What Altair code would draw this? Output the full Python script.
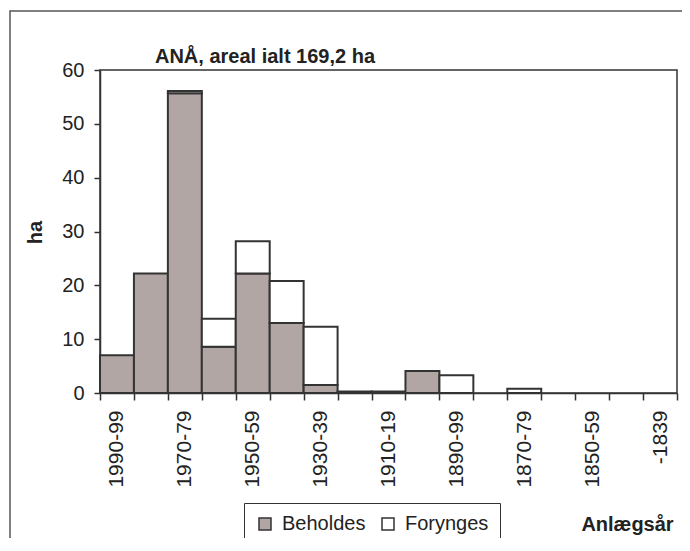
import altair as alt
import pandas as pd

categories = ["1990-99", "1980-89", "1970-79", "1960-69", "1950-59", "1940-49",
              "1930-39", "1920-29", "1910-19", "1900-09", "1890-99", "1880-89",
              "1870-79", "1860-69", "1850-59", "1840-49", "-1839"]
beholdes = [7.0, 22.2, 55.7, 8.6, 22.2, 13.0, 1.5, 0.3, 0.3, 4.1, 0, 0, 0, 0, 0, 0, 0]
forynges = [0, 0, 0.4, 5.2, 6.0, 7.8, 10.8, 0, 0, 0, 3.3, 0, 0.8, 0, 0, 0, 0]
series = ["Beholdes", "Forynges"]
shown_labels = categories[::2]
title_text = "ANÅ, areal ialt 169,2 ha"

rows = []
for c, b, f in zip(categories, beholdes, forynges):
    if b > 0:
        rows.append({"cat": c, "serie": "Beholdes", "ord": 0, "ha": b})
    if f > 0:
        rows.append({"cat": c, "serie": "Forynges", "ord": 1, "ha": f})
df = pd.DataFrame(rows)

FONT = "Liberation Sans"
TXT = "#222222"
label_expr = "indexof([" + ",".join("'" + s + "'" for s in shown_labels) + "], datum.value) >= 0 ? datum.label : ''"

bars = alt.Chart(df).mark_bar(stroke="#333333", strokeWidth=2).encode(
    x=alt.X("cat:N", sort=categories,
            scale=alt.Scale(domain=categories, paddingInner=0, paddingOuter=0),
            axis=alt.Axis(title="Anlægsår", titleX=527, titleY=131, titleAlign="center",
                          titleBaseline="middle", titleAngle=0, titleFont=FONT,
                          titleFontSize=20, titleFontWeight="bold", titleColor=TXT,
                          labelAngle=270, labelAlign="right", labelBaseline="middle",
                          labelExpr=label_expr, labelOverlap=False, labelFont=FONT,
                          labelFontSize=21, labelColor=TXT, labelPadding=10,
                          tickBand="extent", tickSize=7, tickColor="#333333", tickWidth=1.5,
                          domainColor="#333333", domainWidth=1.5)),
    y=alt.Y("ha:Q", stack="zero",
            scale=alt.Scale(domain=[0, 60], nice=False),
            axis=alt.Axis(title="ha", values=[0, 10, 20, 30, 40, 50, 60], grid=False,
                          titleX=-65, titleY=162, titleAngle=270, titleAlign="center",
                          titleBaseline="middle", titleFont=FONT, titleFontSize=20,
                          titleFontWeight="bold", titleColor=TXT,
                          labelFont=FONT, labelFontSize=20, labelColor=TXT, labelPadding=10,
                          tickSize=6, tickColor="#333333", tickWidth=1.5,
                          domainColor="#333333", domainWidth=1.5)),
    color=alt.Color("serie:N", sort=series,
                    scale=alt.Scale(domain=series, range=["#b2a6a4", "#ffffff"]),
                    legend=alt.Legend(title=None, orient="none", legendX=144, legendY=433,
                                      direction="horizontal", strokeColor="#333333",
                                      padding=11, symbolType="square", symbolSize=144,
                                      symbolStrokeColor="#333333", symbolStrokeWidth=1.5,
                                      labelFont=FONT, labelFontSize=20, labelColor=TXT,
                                      columnPadding=12, labelOffset=7)),
    order=alt.Order("ord:Q", sort="ascending"),
)

border = alt.Chart(alt.Data(values=[{}])).mark_rect(
    filled=False, stroke="#555555", strokeWidth=1.5
).encode(
    x=alt.value(-90), x2=alt.value(700), y=alt.value(-59), y2=alt.value(700)
)

title = alt.Chart(alt.Data(values=[{"t": title_text}])).mark_text(
    font=FONT, fontSize=20, fontWeight="bold", color=TXT,
    align="center", baseline="alphabetic"
).encode(text="t:N", x=alt.value(165), y=alt.value(-7))

chart = alt.layer(border, bars, title).properties(
    width=577, height=323,
    autosize=alt.AutoSizeParams(type="none"),
    padding={"left": 92, "top": 62, "right": 5, "bottom": 145},
).configure_view(stroke="#333333", strokeWidth=1.5)

chart.save("out.html", embed_options={"renderer": "svg", "actions": False})
